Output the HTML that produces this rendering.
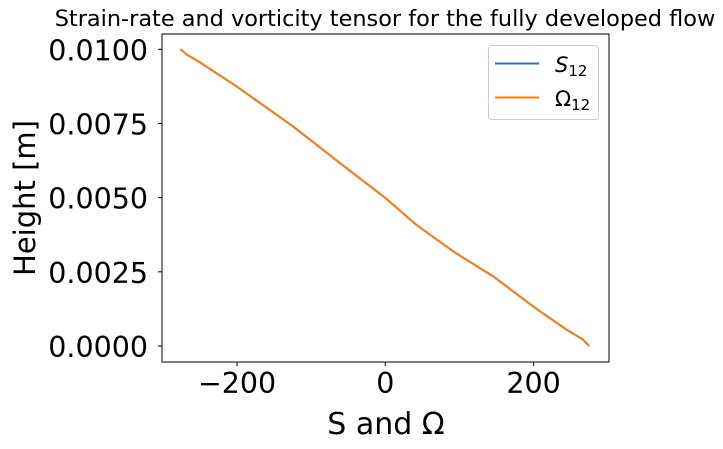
<!DOCTYPE html>
<html><head><meta charset="utf-8"><style>
body{margin:0;background:#fff;}
svg text{font-family:"DejaVu Sans","Liberation Sans",sans-serif;fill:#000;}
</style></head><body>
<svg id="chart" width="723" height="444" xmlns="http://www.w3.org/2000/svg">
<text x="385" y="26" font-size="22.4" text-anchor="middle">Strain-rate and vorticity tensor for the fully developed flow</text>
<rect x="162" y="34" width="447" height="328" fill="none" stroke="#000" stroke-width="1"/>
<g id="xticks"></g><g id="yticks"></g>
<path id="s12" fill="none" stroke="#1f77b4" stroke-width="2"/>
<path id="o12" fill="none" stroke="#ff7f0e" stroke-width="2"/>
<text x="386" y="434" font-size="30" text-anchor="middle">S and Ω</text>
<text transform="translate(35,198) rotate(-90)" font-size="29" text-anchor="middle">Height [m]</text>
<g>
<rect x="488.5" y="45.5" width="110" height="74" rx="3" fill="#fff" stroke="#ccc"/>
<line x1="495" y1="63.5" x2="539" y2="63.5" stroke="#1f77b4" stroke-width="2"/>
<text x="555" y="72" font-size="21" font-style="italic">S<tspan font-size="15" font-style="normal" dy="4">12</tspan></text>
<line x1="495" y1="97.5" x2="539" y2="97.5" stroke="#ff7f0e" stroke-width="2"/>
<text x="555" y="106" font-size="21">Ω<tspan font-size="15" dy="4">12</tspan></text>
</g>
</svg>
<script>
const heights=[0.0100,0.00984,0.00956,0.00874,0.00739,0.00616,0.00498,0.00408,0.00318,0.00234,0.00132,0.00054,0.00023,0];
const s12=[-276,-269,-250,-200,-124,-61,0.5,42,92,146,200,245,266,275];
const omega12=[-276,-269,-250,-200,-124,-61,0.5,42,92,146,200,245,266,275];
const xTicks=[-200,0,200];
const xTickLabels=["−200","0","200"];
const yTicks=[0,0.0025,0.005,0.0075,0.01];
const yTickLabels=["0.0000","0.0025","0.0050","0.0075","0.0100"];
const X=v=>385.3+v*0.7415;
const Y=v=>346-v*29670;
const ns="http://www.w3.org/2000/svg";
function mk(tag,attrs,parent){const e=document.createElementNS(ns,tag);for(const k in attrs)e.setAttribute(k,attrs[k]);parent.appendChild(e);return e;}
const xg=document.getElementById('xticks'),yg=document.getElementById('yticks');
xTicks.forEach((t,i)=>{
 const l=mk('line',{x1:X(t),x2:X(t),y1:362,y2:366,stroke:'#000'},xg);
 
 
 const tx=mk('text',{x:X(t),y:393,'font-size':28.5,'text-anchor':'middle'},xg);
 tx.textContent=xTickLabels[i];
 
 
});
yTicks.forEach((t,i)=>{
 const l=mk('line',{x1:158,x2:162,y1:Y(t),y2:Y(t),stroke:'#000'},yg);
 
 
 const tx=mk('text',{x:148,y:Y(t)+11,'font-size':28.5,'text-anchor':'end'},yg);
 tx.textContent=yTickLabels[i];
 
 
});
const pth=arr=>arr.map((v,i)=>(i?'L':'M')+X(v).toFixed(1)+' '+Y(heights[i]).toFixed(1)).join(' ');
document.getElementById('s12').setAttribute('d',pth(s12));
document.getElementById('o12').setAttribute('d',pth(omega12));
</script>
</body></html>
